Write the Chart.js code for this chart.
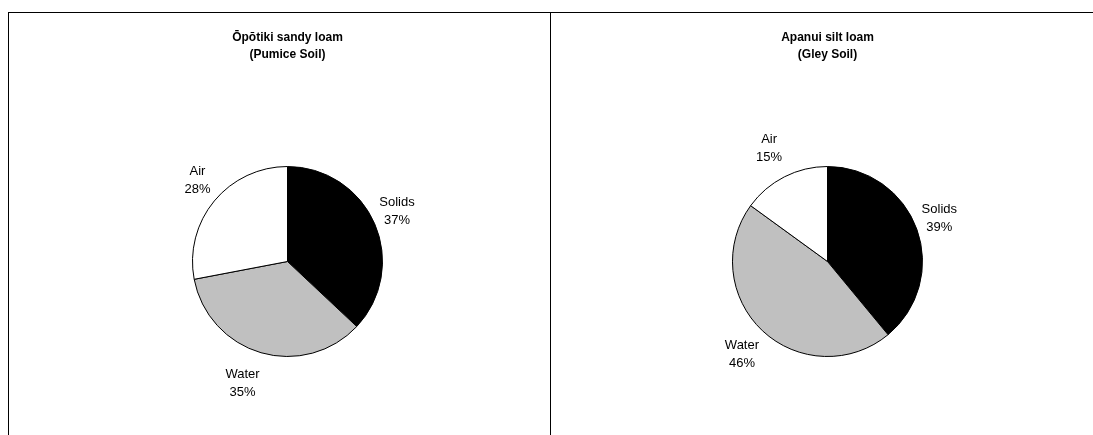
<!DOCTYPE html>
<html><head><meta charset="utf-8">
<script src="https://cdn.jsdelivr.net/npm/chart.js@4"></script>
<style>
html,body{margin:0;padding:0;background:#fff;width:1093px;height:435px;overflow:hidden}
#wrap{position:relative;width:1093px;height:435px}
.panel{position:absolute;border:1px solid #000;box-sizing:border-box}
#p1{left:8px;top:12px;width:543px;height:440px}
#p2{left:550px;top:12px;width:560px;height:440px}
.box{position:absolute}
#b1{left:9px;top:13px;width:540px;height:422px}
#b2{left:551px;top:13px;width:542px;height:422px}
</style></head>
<body>
<div id="wrap">
<div class="panel" id="p1"></div>
<div class="panel" id="p2"></div>
<div class="box" id="b1"><canvas id="c1"></canvas></div>
<div class="box" id="b2"><canvas id="c2"></canvas></div>
</div>
<script>
const categories = ["Solids", "Water", "Air"];
const opotikiValues = [37, 35, 28];
const apanuiValues = [39, 46, 15];
const opotikiTitle = ["Ōpōtiki sandy loam", "(Pumice Soil)"];
const apanuiTitle = ["Apanui silt loam", "(Gley Soil)"];
const sliceColors = ["#000000", "#c0c0c0", "#ffffff"];

const FONT = "'Liberation Sans', Arial, sans-serif";

const titleAndLabels = {
  id: "titleAndLabels",
  afterDatasetsDraw(chart, args, opts) {
    const ctx = chart.ctx;
    const ca = chart.chartArea;
    const meta = chart.getDatasetMeta(0);
    const cx = (ca.left + ca.right) / 2;
    ctx.save();
    ctx.fillStyle = "#000";
    ctx.textAlign = "center";
    ctx.textBaseline = "middle";
    ctx.font = "bold 12px " + FONT;
    opts.title.forEach((t, i) => ctx.fillText(t, cx, opts.titleY + i * opts.titleLH));
    ctx.font = "13px " + FONT;
    const lh = 18;
    const data = chart.data.datasets[0].data;
    const total = data.reduce((a, b) => a + b, 0);
    meta.data.forEach((arc, i) => {
      const p = arc.getProps(["x", "y", "startAngle", "endAngle", "outerRadius"], true);
      const mid = (p.startAngle + p.endAngle) / 2;
      const lines = [chart.data.labels[i], Math.round(data[i] / total * 100) + "%"];
      const w = Math.max(...lines.map(l => ctx.measureText(l).width));
      const h = lines.length * lh;
      const ux = Math.cos(mid), uy = Math.sin(mid);
      const d = p.outerRadius + 5;
      const lx = p.x + ux * d + Math.sign(ux) * w / 2;
      const ly = p.y + uy * d + uy * 27;
      lines.forEach((l, k) => ctx.fillText(l, lx, ly - h / 2 + lh / 2 + k * lh));
    });
    ctx.restore();
  }
};

function makePie(id, values, title, pad) {
  new Chart(document.getElementById(id), {
    type: "pie",
    data: {
      labels: categories,
      datasets: [{
        data: values,
        backgroundColor: sliceColors,
        borderColor: "#000",
        borderWidth: 1,
        hoverOffset: 0
      }]
    },
    options: {
      responsive: true,
      maintainAspectRatio: false,
      animation: false,
      events: [],
      layout: { padding: pad },
      plugins: {
        legend: { display: false },
        tooltip: { enabled: false },
        title: { display: false },
        titleAndLabels: { title: title, titleY: 24.5, titleLH: 17 }
      }
    },
    plugins: [titleAndLabels]
  });
}

makePie("c1", opotikiValues, opotikiTitle, { left: 183, top: 153, right: 166, bottom: 78 });
makePie("c2", apanuiValues, apanuiTitle, { left: 181, top: 153, right: 170, bottom: 78 });
</script>
</body></html>
